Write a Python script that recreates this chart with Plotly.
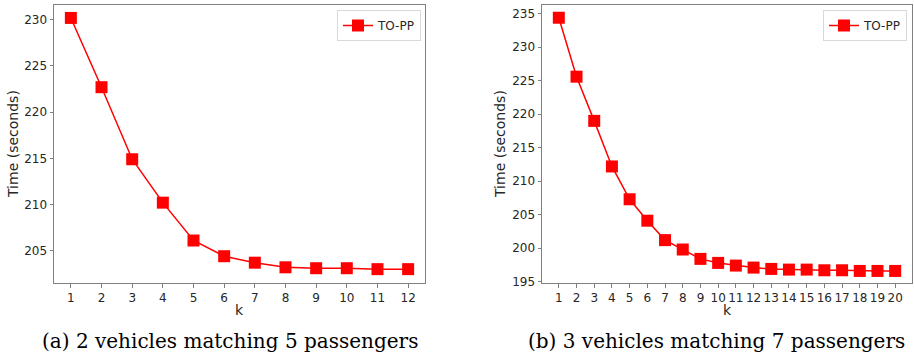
import plotly.graph_objects as go

# ---- data ----
k_a = list(range(1, 13))
time_a = [230.2, 222.7, 214.9, 210.2, 206.1, 204.4, 203.7, 203.2, 203.1, 203.1, 203.0, 203.0]

k_b = list(range(1, 21))
time_b = [234.4, 225.6, 219.0, 212.2, 207.3, 204.1, 201.2, 199.8, 198.4, 197.8,
          197.4, 197.1, 196.9, 196.8, 196.8, 196.7, 196.7, 196.6, 196.6, 196.6]

series_name = "TO-PP"
caption_a = "(a) 2 vehicles matching 5 passengers"
caption_b = "(b) 3 vehicles matching 7 passengers"
x_title = "k"
y_title = "Time (seconds)"
yticks_a = [205, 210, 215, 220, 225, 230]
yticks_b = [195, 200, 205, 210, 215, 220, 225, 230, 235]

W, H = 914, 358
RED = "#ff0000"
TXT = "#262626"
FRAME = "#808080"
SANS = "DejaVu Sans"
SERIF = "DejaVu Serif"

def px_x(p):
    return p / W

def px_y(p):
    return 1 - p / H

fig = go.Figure()

fig.add_trace(go.Scatter(
    x=k_a, y=time_a, mode="lines+markers", name=series_name,
    line=dict(color=RED, width=1.5),
    marker=dict(symbol="square", size=12, color=RED),
    xaxis="x", yaxis="y", legend="legend",
))
fig.add_trace(go.Scatter(
    x=k_b, y=time_b, mode="lines+markers", name=series_name,
    line=dict(color=RED, width=1.5),
    marker=dict(symbol="square", size=12, color=RED),
    xaxis="x2", yaxis="y2", legend="legend2",
))

ybot, ytop = px_y(283), px_y(5)

axis_common = dict(
    showline=True, mirror=True, linecolor=FRAME, linewidth=1,
    ticks="outside", ticklen=3.5, tickwidth=1, tickcolor=FRAME,
    showgrid=False, zeroline=False, automargin=False,
    tickfont=dict(family=SANS, size=12, color=TXT),
)

legend_common = dict(
    xanchor="right", yanchor="top", y=px_y(10),
    bgcolor="white", bordercolor="#d9d9d9", borderwidth=1,
    font=dict(family=SANS, size=12, color=TXT),
)

fig.update_layout(
    width=W, height=H,
    margin=dict(l=0, r=0, t=0, b=0),
    paper_bgcolor="white", plot_bgcolor="white",
    xaxis=dict(domain=[px_x(54), px_x(425)], range=[0.45, 12.55],
               tickmode="array", tickvals=k_a, anchor="y", **axis_common),
    yaxis=dict(domain=[ybot, ytop], range=[201.5, 231.6],
               tickmode="array", tickvals=yticks_a, anchor="x", **axis_common),
    xaxis2=dict(domain=[px_x(542), px_x(912)], range=[0.05, 20.95],
                tickmode="array", tickvals=k_b, anchor="y2", **axis_common),
    yaxis2=dict(domain=[ybot, ytop], range=[194.8, 236.3],
                tickmode="array", tickvals=yticks_b, anchor="x2", **axis_common),
    legend=dict(x=px_x(421), **legend_common),
    legend2=dict(x=px_x(907), **legend_common),
    showlegend=True,
)

def label(text, x, y, size, angle=0, family=SANS, color=TXT):
    fig.add_annotation(text=text, x=px_x(x), y=px_y(y), xref="paper", yref="paper",
                       showarrow=False, xanchor="center", yanchor="middle",
                       textangle=angle, font=dict(family=family, size=size, color=color))

label(y_title, 13, 144, 14, angle=-90)
label(y_title, 500, 144, 14, angle=-90)
label(x_title, 240, 310, 14)
label(x_title, 727, 310, 14)
label(caption_a, 230, 341, 20, family=SERIF, color="black")
label(caption_b, 716, 341, 20, family=SERIF, color="black")

fig.write_html(
    "out.html",
    config={"displayModeBar": False},
    post_script="document.body.style.margin='0';document.body.style.overflow='hidden';",
)
